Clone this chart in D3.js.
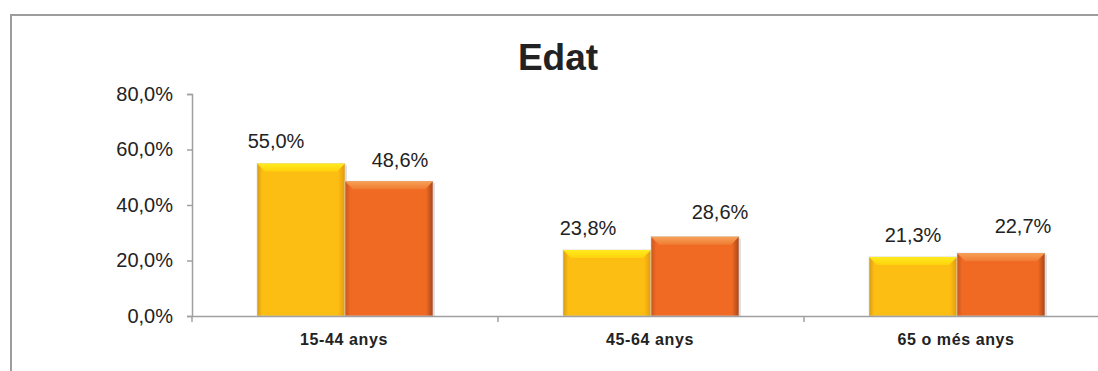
<!DOCTYPE html>
<html>
<head>
<meta charset="utf-8">
<script src="https://cdn.jsdelivr.net/npm/d3@7"></script>
<style>
  html, body { margin: 0; padding: 0; background: #fff; }
  svg { display: block; font-family: Arial, "Liberation Sans", sans-serif; }
</style>
</head>
<body>
<svg id="chart" width="1098" height="371"></svg>
<script>
// Age groups and the share of each group for the two series
const categories = ["15-44 anys", "45-64 anys", "65 o més anys"];
const seriesNames = ["A", "B"];
const seriesA = [55.0, 23.8, 21.3];
const seriesB = [48.6, 28.6, 22.7];
const yTicks = [0, 20, 40, 60, 80];
const title = "Edat";

// Layout
const W = 1098, H = 371;
const plot = { left: 192, top: 94, bottom: 316, right: 1110 };
// Per-label nudges for the value labels, [dx, dy] from the bar's top centre
const labelNudge = {
  A: [[-25, -15], [-19, -15], [0, -15]],
  B: [[11, -14], [25, -18], [22, -20]]
};

const svg = d3.select("#chart");
const values = { A: seriesA, B: seriesB };

// Gradients for the bevelled bars
const defs = svg.append("defs");
const palette = {
  A: { body: "#FDBE13", light: "#FFEC1E", mid: "#FFD20C", dark: "#E39A0C", edge: "#D89A12" },
  B: { body: "#F06A23", light: "#F7A15A", mid: "#F17C32", dark: "#A9451A", edge: "#C9561E" }
};
seriesNames.forEach(s => {
  const p = palette[s];
  const gb = defs.append("linearGradient").attr("id", "body" + s)
    .attr("x1", 0).attr("x2", 1).attr("y1", 0).attr("y2", 0);
  gb.append("stop").attr("offset", "0%").attr("stop-color", p.edge);
  gb.append("stop").attr("offset", "6%").attr("stop-color", p.body);
  gb.append("stop").attr("offset", "92%").attr("stop-color", p.body);
  gb.append("stop").attr("offset", "100%").attr("stop-color", p.dark);
  const gt = defs.append("linearGradient").attr("id", "top" + s)
    .attr("x1", 0).attr("x2", 0).attr("y1", 0).attr("y2", 1);
  gt.append("stop").attr("offset", "0%").attr("stop-color", p.light);
  gt.append("stop").attr("offset", "100%").attr("stop-color", p.mid);
});

// Frame
svg.append("path")
  .attr("d", `M11,${H} L11,15 L${W},15`)
  .attr("fill", "none").attr("stroke", "#9d9d9d").attr("stroke-width", 2);

// Title
svg.append("text")
  .attr("x", 558).attr("y", 70)
  .attr("text-anchor", "middle")
  .attr("font-size", 37).attr("font-weight", "bold").attr("fill", "#222")
  .text(title);

// Scales
const y = d3.scaleLinear().domain([0, 80]).range([plot.bottom, plot.top]);
const x0 = d3.scaleBand().domain(categories).range([plot.left, plot.right]).padding(0);
const x1 = d3.scaleBand().domain(seriesNames).range([0, x0.bandwidth()])
  .paddingInner(0).paddingOuter(0.739);

// Y axis
const fmt = v => d3.format(".1f")(v).replace(".", ",") + "%";
const yAxis = svg.append("g").attr("transform", `translate(${plot.left},0)`)
  .call(d3.axisLeft(y).tickValues(yTicks).tickSize(5).tickPadding(14).tickFormat(fmt));
yAxis.select(".domain").attr("stroke", "#a0a0a0").attr("stroke-width", 1.5);
yAxis.selectAll(".tick line").attr("stroke", "#a0a0a0").attr("stroke-width", 1.5);
yAxis.selectAll(".tick text").attr("font-size", 20).attr("fill", "#222")
  .attr("font-family", "Arial, 'Liberation Sans', sans-serif");

// Bars
const groups = svg.append("g").selectAll("g")
  .data(categories).join("g")
  .attr("transform", d => `translate(${x0(d)},0)`);

groups.each(function (cat, i) {
  const g = d3.select(this);
  seriesNames.forEach(s => {
    const v = values[s][i];
    const bx = x1(s), bw = x1.bandwidth();
    const by = y(v), bh = y(0) - y(v);
    // soft shadow
    g.append("rect").attr("x", bx + 2).attr("y", by + 2).attr("width", bw).attr("height", bh - 2)
      .attr("fill", "#000").attr("opacity", 0.12);
    // body
    g.append("rect").attr("x", bx).attr("y", by).attr("width", bw).attr("height", bh)
      .attr("fill", `url(#body${s})`).attr("stroke", "#d8d8d8").attr("stroke-width", 0.6);
    // top bevel
    const bev = Math.min(8, bh / 2);
    g.append("path")
      .attr("d", `M${bx},${by} L${bx + bw},${by} L${bx + bw - bev},${by + bev} L${bx + bev},${by + bev} Z`)
      .attr("fill", `url(#top${s})`);
    // value label
    const [dx, dy] = labelNudge[s][i];
    g.append("text")
      .attr("x", bx + bw / 2 + dx).attr("y", by + dy)
      .attr("text-anchor", "middle").attr("font-size", 20).attr("fill", "#222")
      .text(fmt(v));
  });
});

// X axis
const xAxis = svg.append("g").attr("transform", `translate(0,${plot.bottom})`)
  .call(d3.axisBottom(x0).tickSize(0).tickFormat(""));
xAxis.select(".domain").attr("stroke", "#a0a0a0").attr("stroke-width", 1.5);
xAxis.selectAll(".tick").remove();
// boundary ticks between categories
xAxis.selectAll("line.sep")
  .data(categories).join("line").attr("class", "sep")
  .attr("x1", d => x0(d)).attr("x2", d => x0(d))
  .attr("y1", 0).attr("y2", 6)
  .attr("stroke", "#a0a0a0").attr("stroke-width", 1.5);
// category labels
xAxis.selectAll("text.cat")
  .data(categories).join("text").attr("class", "cat")
  .attr("x", d => x0(d) + x0.bandwidth() / 2 - 1)
  .attr("y", 29)
  .attr("text-anchor", "middle")
  .attr("font-size", 16).attr("font-weight", "bold").attr("fill", "#222")
  .attr("letter-spacing", 0.6)
  .text(d => d);
</script>
</body>
</html>
